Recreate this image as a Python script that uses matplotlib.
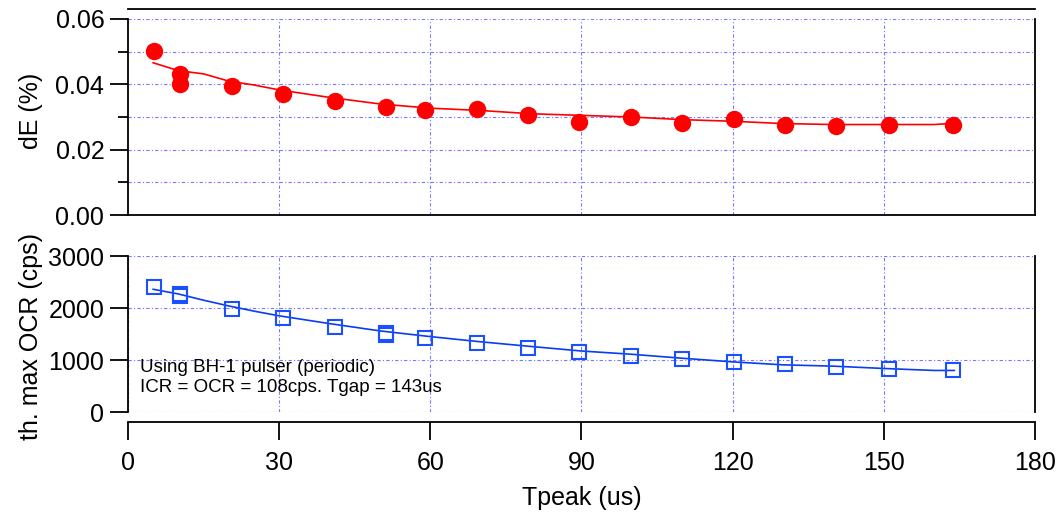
import matplotlib
matplotlib.use("Agg")
import matplotlib.pyplot as plt
from matplotlib.ticker import MultipleLocator

plt.rcParams['font.family'] = ['Liberation Sans', 'DejaVu Sans']

# measured points
tpeak = [5.2, 10.4, 10.4, 20.6, 30.8, 41.0, 51.2, 59.0, 69.2, 79.4, 89.6,
         99.8, 110.0, 120.2, 130.4, 140.6, 151.0, 163.8]
de = [0.0502, 0.0432, 0.0401, 0.0396, 0.0371, 0.0349, 0.0331, 0.0321, 0.0324,
      0.0306, 0.0286, 0.0300, 0.0283, 0.0294, 0.0277, 0.0273, 0.0277, 0.0277]
tpeak_ocr = [5.2, 10.4, 10.4, 20.6, 30.8, 41.0, 51.2, 51.2, 59.0, 69.2, 79.4,
             89.6, 99.8, 110.0, 120.2, 130.4, 140.6, 151.0, 163.8]
ocr = [2400, 2260, 2240, 1990, 1808, 1636, 1510, 1490, 1414, 1319, 1230,
       1148, 1078, 1021, 964, 920, 875, 831, 799]

# fitted curves
fit_t = [5, 10, 15, 20, 25, 30, 40, 50, 60, 70, 80, 90, 100, 110, 120,
         130, 140, 150, 160, 164]
fit_de = [0.0466, 0.0442, 0.0432, 0.0410, 0.0398, 0.0383, 0.0360, 0.0340,
          0.0327, 0.0320, 0.0310, 0.0305, 0.0300, 0.0292, 0.0287, 0.0280,
          0.0277, 0.0277, 0.0277, 0.0281]
fit_ocr = [2360, 2270, 2150, 2040, 1940, 1850, 1700, 1560, 1450, 1350,
           1260, 1173, 1110, 1034, 964, 907, 882, 837, 799, 799]

label_size = 18
grid_kw = dict(color='#7878ff', lw=0.8, ls=(0, (3, 2, 1, 2)))

fig = plt.figure(figsize=(10.61, 5.12), dpi=100)
ax1 = fig.add_axes([0.1206, 0.580, 0.8549, 0.3829])
ax2 = fig.add_axes([0.1206, 0.1953, 0.8549, 0.3047])

# top panel: dE
ax1.plot(fit_t, fit_de, color='red', lw=1.2, zorder=3)
ax1.plot(tpeak, de, 'o', color='red', ms=11.5, zorder=4)
ax1.set_xlim(0, 180)
ax1.set_ylim(0, 0.06)
ax1.yaxis.set_major_locator(MultipleLocator(0.02))
ax1.set_yticks([0.01, 0.03, 0.05], minor=True)
ax1.yaxis.set_major_formatter(plt.FuncFormatter(lambda v, p: f"{v:.2f}"))
ax1.set_xticks([30, 60, 90, 120, 150])
ax1.tick_params(axis='x', which='both', length=0, labelbottom=False)
ax1.tick_params(axis='y', which='major', direction='out', length=13, width=1.3,
                labelsize=label_size, pad=4)
ax1.tick_params(axis='y', which='minor', direction='out', length=7, width=1.3)
ax1.spines['top'].set_position(('outward', 7))
for s in ax1.spines.values():
    s.set_linewidth(1.3)
ax1.grid(True, which='both', axis='y', **grid_kw)
ax1.grid(True, which='major', axis='x', **grid_kw)
ax1.set_axisbelow(True)

# bottom panel: max OCR
ax2.plot(fit_t, fit_ocr, color='#0a3cf0', lw=1.2, zorder=3)
ax2.plot(tpeak_ocr, ocr, 's', mfc='none', mec='#1a50ff', mew=1.5, ms=10, zorder=4)
ax2.set_xlim(0, 180)
ax2.set_ylim(0, 3000)
ax2.set_yticks([0, 1000, 2000, 3000])
ax2.set_xticks([0, 30, 60, 90, 120, 150, 180])
ax2.spines['top'].set_visible(False)
ax2.spines['bottom'].set_position(('outward', 7))
for s in ax2.spines.values():
    s.set_linewidth(1.3)
ax2.tick_params(axis='both', direction='out', length=13, width=1.3,
                labelsize=label_size, pad=4)
ax2.tick_params(axis='x', pad=8)
ax2.grid(True, **grid_kw)
ax2.set_axisbelow(True)
ax2.set_xlabel("Tpeak (us)", fontsize=label_size, labelpad=8)

ax2.text(0.013, 0.22, "Using BH-1 pulser (periodic)\nICR = OCR = 108cps. Tgap = 143us",
         transform=ax2.transAxes, fontsize=13.5, va='center', ha='left',
         linespacing=1.25)

fig.text(0.029, 0.783, "dE (%)", rotation=90, fontsize=label_size,
         ha='center', va='center')
fig.text(0.029, 0.342, "th. max OCR (cps)", rotation=90, fontsize=label_size,
         ha='center', va='center')

fig.savefig("out.png", dpi=100)
